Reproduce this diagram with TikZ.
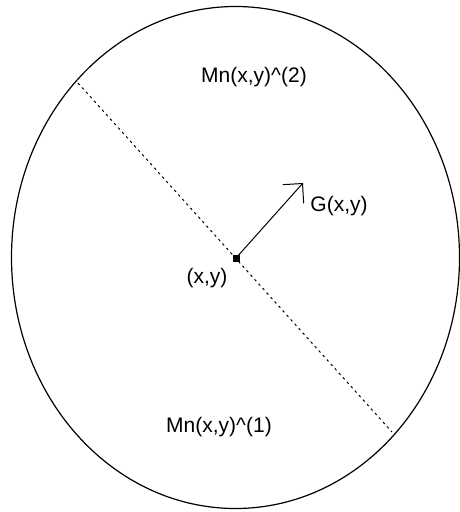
\documentclass[tikz,border=0pt]{standalone}
\usepackage{fontspec}
\setmainfont{Liberation Sans}
\usetikzlibrary{arrows.meta}
\tikzset{
    lbl/.style={inner sep=0pt, font=\fontsize{21}{25}\selectfont},
    pointbox/.style={rectangle, fill=black, inner sep=0pt, minimum size=7pt},
    gradarrow/.style={-{Straight Barb[length=14pt, width=28pt, line width=1pt]}, line width=1pt},
    splitline/.style={line width=1pt, dash pattern=on 2.5pt off 3.5pt}
}
\begin{document}
\begin{tikzpicture}[x=1pt, y=-1pt]
    \useasboundingbox (0,0) rectangle (460,512);

    % Outer region
    \draw[line width=1.2pt] (235.5,257.5) ellipse [x radius=224, y radius=251];

    % Dividing line through the point
    \coordinate (d1) at (78,83);
    \coordinate (d2) at (392,432);
    \draw[splitline] (d1) -- (d2);

    % The point and its gradient
    \node[pointbox] (p) at (236,258) {};
    \coordinate (g) at (303,183);
    \draw[gradarrow] (p.center) -- (g);

    % Labels
    \node[lbl] (m2) at (254,77) {Mn(x,y)\textasciicircum(2)};
    \node[lbl] (gl) at (339,206) {G(x,y)};
    \node[lbl] (xy) at (207,278) {(x,y)};
    \node[lbl] (m1) at (219,427) {Mn(x,y)\textasciicircum(1)};
\end{tikzpicture}
\end{document}
